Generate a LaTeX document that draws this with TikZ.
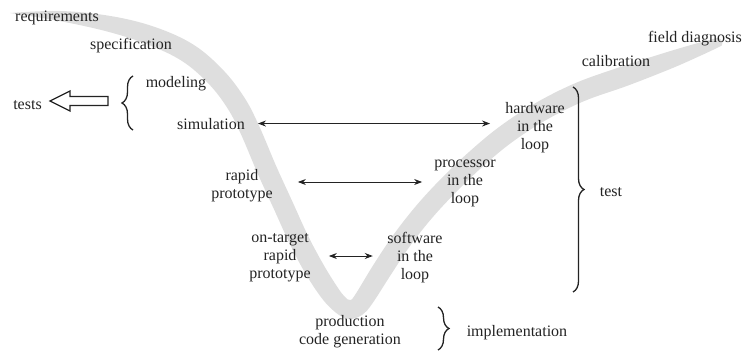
\documentclass[tikz,border=0pt]{standalone}
\usepackage{fontspec}
\setmainfont{Liberation Serif}
\usetikzlibrary{arrows.meta,decorations.pathreplacing}
\definecolor{bandgray}{RGB}{222,222,222}
\definecolor{ink}{RGB}{35,35,35}
\begin{document}
\begin{tikzpicture}[x=1pt,y=-1pt,
  lbl/.style={inner sep=0pt, text=ink, font=\fontsize{16}{18}\selectfont, align=center},
  dbl/.style={draw=ink, line width=0.9pt, {Stealth[length=8pt,width=6pt]}-{Stealth[length=8pt,width=6pt]}},
  brc/.style={draw=ink, line width=1.3pt, decorate, decoration={brace, amplitude=11pt}},
  hollow/.style={draw=ink, line width=1.3pt, line join=miter},
]
\useasboundingbox (0,0) rectangle (743,359);

% grey V-shaped process band
\fill[bandgray]
  plot[smooth, tension=0.6] coordinates {(10,13) (60.5,11) (111.7,16.2) (155.5,27.2) (193.7,44.8) (223.4,70.3) (244.6,97.9) (259.1,125.9) (276.1,165.9) (292,200.7) (308,235.7) (323.8,265.2) (338,288) (345,297) (350,300) (355,295) (373.5,264.7) (393.9,234.2) (416.4,205.5) (440.9,178.9) (468.4,152.5) (499.2,126.9) (535.1,103.3) (576.1,82.8) (621.9,66.5) (667.6,51.9) (698,43) (717,38)}
  .. controls (724,38.5) and (724,46.5) .. (719,47)
  -- plot[smooth, tension=0.6] coordinates {(719,47) (702,55) (672.4,68.1) (628.1,85.5) (583.9,101.2) (544.9,120.7) (510.8,143.1) (481.6,167.5) (455.1,193.1) (431.6,218.5) (410.1,245.8) (390.5,275.3) (372,304) (362,315) (350,319) (339,315) (323.8,300.7) (306.2,274.8) (290,244.3) (274,209.3) (257.9,174.1) (240.9,134.1) (227.4,108.1) (208.6,83.7) (182.3,61.2) (148.5,44.8) (108.3,31.8) (59.5,21) (10,13)}
  -- cycle;

% labels along the band
\node[lbl, anchor=base] (req)  at (57,21)   {requirements};
\node[lbl, anchor=base] (spec) at (131,49)  {specification};
\node[lbl, anchor=base] (mod)  at (176,87)  {modeling};
\node[lbl, anchor=base] (sim)  at (211,129) {simulation};
\node[lbl, anchor=base] (tests) at (27.5,109) {tests};
\node[lbl] (rp)   at (242,186)   {rapid\\prototype};
\node[lbl] (ot)   at (280,258)   {on-target\\rapid\\prototype};
\node[lbl] (prod) at (350,331.5) {production\\code generation};
\node[lbl] (sil)  at (415,258)   {software\\in the\\loop};
\node[lbl] (pil)  at (465,183)   {processor\\in the\\loop};
\node[lbl] (hil)  at (535,128)   {hardware\\in the\\loop};
\node[lbl, anchor=base] (cal)  at (616,66)   {calibration};
\node[lbl, anchor=base] (fd)   at (695,42.5) {field diagnosis};
\node[lbl, anchor=base] (test) at (611,196)  {test};
\node[lbl, anchor=base] (impl) at (517,336)  {implementation};

% correspondences between left and right branches
\draw[dbl, shorten <=13pt, shorten >=15pt] (sim.east) -- (sim.east -| hil.west);
\coordinate (rpa) at ([yshift=4pt]rp.east);
\draw[dbl, shorten <=25pt, shorten >=12pt] (rpa) -- (rpa -| pil.west);
\coordinate (ota) at ([yshift=2pt]ot.east);
\draw[dbl, shorten <=18pt, shorten >=14.5pt] (ota) -- (ota -| sil.west);

% braces
\coordinate (lbB) at (133,130);
\coordinate (lbT) at (133,76);
\draw[brc] (lbB) -- (lbT);
\coordinate (tbT) at (573,87);
\coordinate (tbB) at (573,292);
\draw[brc] (tbT) -- (tbB);
\coordinate (ibT) at (438,307);
\coordinate (ibB) at (438,350);
\draw[brc] (ibT) -- (ibB);

% hollow arrow towards the tests label
\draw[hollow] (50,101) -- (70,91) -- (70,96.5) -- (108,96.5) -- (108,105.5) -- (70,105.5) -- (70,111) -- cycle;
\end{tikzpicture}
\end{document}
